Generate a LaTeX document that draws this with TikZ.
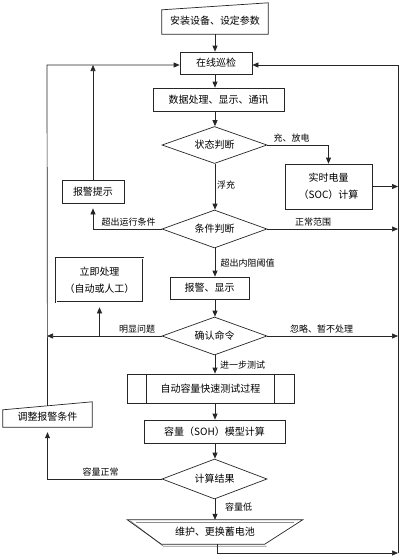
\documentclass[tikz,border=0pt]{standalone}
\usepackage{fontspec}
\newfontfamily\cjk{Noto Sans CJK SC}
\usetikzlibrary{arrows.meta,shapes.geometric,calc}
\begin{document}
\begin{tikzpicture}[x=1pt,y=-1pt,
  line/.style={draw=black!85, line width=0.7pt},
  arr/.style={line, -{Triangle[length=6pt,width=5pt]}},
  box/.style={draw=black!85, line width=0.7pt, rectangle, inner sep=0pt, font=\cjk\fontsize{10}{17}\selectfont, align=center},
  txt/.style={inner sep=0pt, font=\cjk\fontsize{10}{17}\selectfont, align=center},
  dec/.style={diamond, draw=black!85, line width=0.7pt, aspect=2.8, inner sep=0pt, font=\cjk\fontsize{10}{12}\selectfont},
  lab/.style={inner sep=0pt, font=\cjk\fontsize{9}{11}\selectfont}
]
\useasboundingbox (0,0) rectangle (400,558);
\fill[white] (0,0) rectangle (400,558);

\coordinate (ax) at (215,0);
\coordinate (L) at (47,65);
\coordinate (R) at (398,65);
\coordinate (Rb) at (398,553);

% nodes
\node[txt, minimum width=106pt, minimum height=27.5pt] (start) at (215,20.25) {安装设备、设定参数};
\draw[line] (start.south west) -- ([yshift=-3.5pt]start.north west) -- ([yshift=3.5pt]start.north east) -- (start.south east) -- cycle;

\node[box, minimum width=72pt, minimum height=22pt] (inspect) at (216,63) {在线巡检};
\node[box, minimum width=131pt, minimum height=23pt] (data) at (218.5,99.5) {数据处理、显示、通讯};
\node[dec, minimum width=105pt, minimum height=37pt] (d1) at (214.5,145) {状态判断};
\node[box, minimum width=87pt, minimum height=45pt] (soc) at (328.5,186.5) {实时电量\\（SOC）计算};
\node[box, minimum width=62pt, minimum height=23pt] (alarmtip) at (93,191.5) {报警提示};
\node[dec, minimum width=105pt, minimum height=38pt] (d2) at (214.5,229) {条件判断};
\node[box, minimum width=79pt, minimum height=22pt] (alarm) at (209.5,288) {报警、显示};
\node[box, double, double distance=1pt, minimum width=87pt, minimum height=44pt] (immediate) at (99.5,280) {立即处理\\（自动或人工）};
\node[dec, minimum width=105pt, minimum height=38pt] (d3) at (214.5,336) {确认命令};
\node[box, minimum width=167pt, minimum height=29pt] (autotest) at (210.5,388.5) {自动容量快速测试过程};
\draw[line] ([xshift=20pt]autotest.north west) -- ([xshift=20pt]autotest.south west);
\draw[line] ([xshift=-20pt]autotest.north east) -- ([xshift=-20pt]autotest.south east);
\node[box, minimum width=141pt, minimum height=23pt] (soh) at (214.5,431.5) {容量（SOH）模型计算};
\node[dec, minimum width=105pt, minimum height=40pt] (d4) at (214.5,479) {计算结果};
\node[txt, minimum width=89pt, minimum height=21pt] (adjust) at (47.5,416.5) {调整报警条件};
\draw[line] (adjust.south west) -- ([yshift=-4pt]adjust.north west) -- ([yshift=4pt]adjust.north east) -- (adjust.south east) -- cycle;
\node[txt, minimum width=175pt, minimum height=24pt] (trap) at (215,532) {维护、更换蓄电池};
\draw[black!45, line width=0.7pt] ([xshift=9pt,yshift=-3pt]trap.north west) -- ([xshift=-9pt,yshift=-3pt]trap.north east);
\draw[black!45, line width=0.7pt] ([xshift=3pt,yshift=-1pt]trap.north west) -- ([xshift=36pt,yshift=-2pt]trap.south west) -- ([xshift=-36pt,yshift=-2pt]trap.south east);
\draw[line] (trap.north west) -- (trap.north east) -- ([xshift=-38pt]trap.south east) -- ([xshift=34pt]trap.south west) -- cycle;

% main flow
\draw[arr] (start.south -| ax) -- (inspect.north -| ax);
\draw[arr] (inspect.south -| ax) -- (data.north -| ax);
\draw[arr] (data.south -| ax) -- (d1.north -| ax);
\draw[arr] (d1.south -| ax) -- (d2.north -| ax);
\draw[arr] (d2.south -| ax) -- (alarm.north -| ax);
\draw[arr] (alarm.south -| ax) -- (d3.north -| ax);
\draw[arr] (d3.south -| ax) -- (autotest.north -| ax);
\draw[arr] (autotest.south -| ax) -- (soh.north -| ax);
\draw[arr] (soh.south -| ax) -- (d4.north -| ax);
\draw[arr] (d4.south -| ax) -- (trap.north -| ax);

% branches
\draw[arr] (d1.east) -| (soc.north);
\draw[arr] (soc.east) -- (soc.east -| R);
\draw[arr] (d2.east) -- (d2.east -| R);
\draw[arr] (d3.east) -- (d3.east -| R);
\draw[arr] (d3.west) -- (d3.west -| L);
\draw[arr, shorten >=5pt] (d3.west -| immediate.south) -- (immediate.south);
\draw[arr, shorten >=5pt] (d2.west) -| (alarmtip.south);
\draw[arr] (alarmtip.north) -- (alarmtip.north |- L);
\draw[arr, shorten >=5pt] (d4.west) -| (adjust.south);
\draw[arr] (adjust.north) -- (L) -- (inspect.west |- L);
\draw[arr] ([xshift=2pt]trap.south) |- (Rb);
\draw[line] (Rb) -- (R);
\draw[arr] (R) -- (inspect.east |- R);

% labels
\node[lab] (l1) at (291.5,138) {充、放电};
\node[lab] (l2) at (226,185) {浮充};
\node[lab] (l3) at (128.5,222) {超出运行条件};
\node[lab] (l4) at (313,222) {正常范围};
\node[lab] (l5) at (247.5,263) {超出内阻阈值};
\node[lab] (l6) at (137,329) {明显问题};
\node[lab] (l7) at (321.5,329) {忽略、暂不处理};
\node[lab] (l8) at (242.5,365) {进一步测试};
\node[lab] (l9) at (100.5,472) {容量正常};
\node[lab] (l10) at (238.5,507) {容量低};
\end{tikzpicture}
\end{document}
